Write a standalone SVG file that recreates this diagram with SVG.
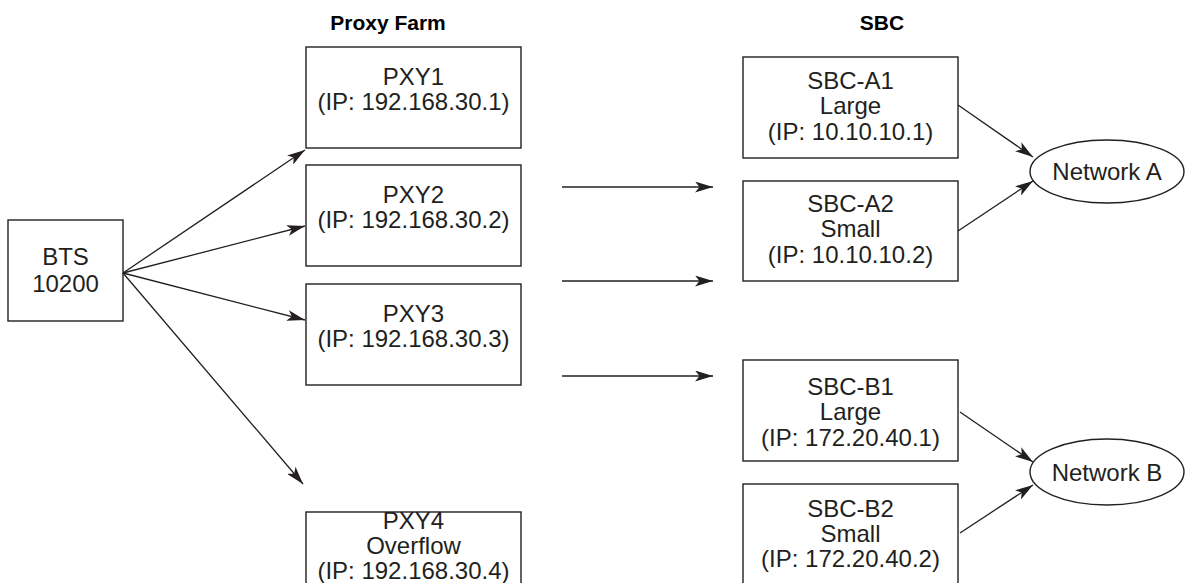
<svg xmlns="http://www.w3.org/2000/svg" width="1186" height="583" viewBox="0 0 1186 583">
<style>
.box{fill:#fff;stroke:#231f20;stroke-width:1.4}
.t{font-family:"Liberation Sans",Arial,Helvetica,sans-serif;font-size:24px;fill:#231f20;text-anchor:middle}
.h{font-family:"Liberation Sans",Arial,Helvetica,sans-serif;font-size:21px;font-weight:bold;fill:#000;text-anchor:middle}
.c line{stroke:#231f20;stroke-width:1.3;marker-end:url(#ah)}
</style>
<defs>
<marker id="ah" viewBox="0 0 18 11" refX="18" refY="5.5" markerWidth="18" markerHeight="11" markerUnits="userSpaceOnUse" orient="auto">
<path d="M0,0 L18,5.5 L0,11 L4.5,5.5 z" fill="#231f20"/>
</marker>
</defs>
<rect width="1186" height="583" fill="#fff"/>
<text class="h" x="388" y="30">Proxy Farm</text>
<text class="h" x="882" y="30">SBC</text>
<g id="bts"><rect class="box" x="8" y="220" width="115" height="101"/><text class="t" x="65.5" y="265">BTS</text><text class="t" x="65.5" y="292">10200</text></g>
<g id="pxy1"><rect class="box" x="306" y="47" width="215" height="101"/><text class="t" x="413.5" y="85">PXY1</text><text class="t" x="413.5" y="110">(IP: 192.168.30.1)</text></g>
<g id="pxy2"><rect class="box" x="306" y="165" width="215" height="101"/><text class="t" x="413.5" y="203">PXY2</text><text class="t" x="413.5" y="228">(IP: 192.168.30.2)</text></g>
<g id="pxy3"><rect class="box" x="306" y="284" width="215" height="101"/><text class="t" x="413.5" y="322">PXY3</text><text class="t" x="413.5" y="347">(IP: 192.168.30.3)</text></g>
<g id="pxy4"><rect class="box" x="306" y="512" width="215" height="101"/><text class="t" x="413.5" y="529">PXY4</text><text class="t" x="413.5" y="554">Overflow</text><text class="t" x="413.5" y="578.5">(IP: 192.168.30.4)</text></g>
<g id="sbca1"><rect class="box" x="743" y="57" width="215" height="101"/><text class="t" x="850.5" y="89">SBC-A1</text><text class="t" x="850.5" y="114">Large</text><text class="t" x="850.5" y="140">(IP: 10.10.10.1)</text></g>
<g id="sbca2"><rect class="box" x="743" y="181" width="215" height="100"/><text class="t" x="850.5" y="212">SBC-A2</text><text class="t" x="850.5" y="237">Small</text><text class="t" x="850.5" y="263">(IP: 10.10.10.2)</text></g>
<g id="sbcb1"><rect class="box" x="743" y="360" width="215" height="101"/><text class="t" x="850.5" y="395">SBC-B1</text><text class="t" x="850.5" y="420">Large</text><text class="t" x="850.5" y="446">(IP: 172.20.40.1)</text></g>
<g id="sbcb2"><rect class="box" x="743" y="484" width="215" height="110"/><text class="t" x="850.5" y="517">SBC-B2</text><text class="t" x="850.5" y="542">Small</text><text class="t" x="850.5" y="567">(IP: 172.20.40.2)</text></g>
<g id="neta"><ellipse class="box" cx="1107" cy="171.5" rx="77" ry="31.5"/><text class="t" x="1107" y="180">Network A</text></g>
<g id="netb"><ellipse class="box" cx="1107" cy="472" rx="77" ry="33"/><text class="t" x="1107" y="481">Network B</text></g>
<g id="connectors" class="c">
<line x1="123" y1="273" x2="305" y2="150"/>
<line x1="123" y1="273" x2="305" y2="226"/>
<line x1="123" y1="273" x2="305" y2="320"/>
<line x1="123" y1="273" x2="303" y2="484"/>
<line x1="562" y1="187" x2="713" y2="187"/>
<line x1="562" y1="281" x2="713" y2="281"/>
<line x1="562" y1="376" x2="713" y2="376"/>
<line x1="958" y1="105" x2="1033" y2="157"/>
<line x1="958" y1="231" x2="1033" y2="181"/>
<line x1="960" y1="412" x2="1033" y2="462"/>
<line x1="960" y1="533" x2="1033" y2="485"/>
</g>
</svg>
